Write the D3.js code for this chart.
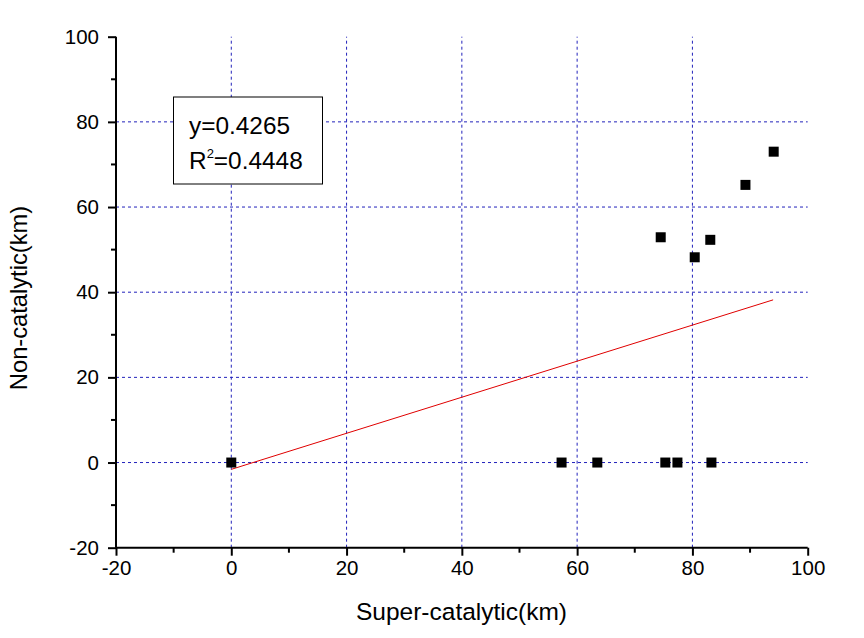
<!DOCTYPE html>
<html><head><meta charset="utf-8">
<script src="https://cdn.jsdelivr.net/npm/d3@7/dist/d3.min.js"></script>
<style>body{margin:0;background:#fff;}svg{display:block;font-family:"Liberation Sans",Arial,sans-serif;}</style>
</head><body>
<script>
const superCat = [0, 57.3, 63.5, 75.3, 77.4, 83.3, 74.5, 80.4, 83.1, 89.2, 94.1];
const nonCat   = [0, 0, 0, 0, 0, 0, 52.9, 48.2, 52.3, 65.2, 73.0];
const fitX = [0, 94.0];
const fitY = [-1.6, 38.2];
const xTicks = [-20, 0, 20, 40, 60, 80, 100];
const yTicks = [-20, 0, 20, 40, 60, 80, 100];
const gridVals = [0, 20, 40, 60, 80];
const eqLines = ["y=0.4265", "0.4448"];

const W = 864, H = 638;
const svg = d3.select("body").append("svg").attr("width", W).attr("height", H);
const x = d3.scaleLinear().domain([-20, 100]).range([116, 807.7]);
const y = d3.scaleLinear().domain([-20, 100]).range([547.7, 36.7]);

// grid
const g = svg.append("g");
g.selectAll(".vg").data(gridVals).enter().append("line")
  .attr("x1", d => x(d)).attr("x2", d => x(d)).attr("y1", y(-20)).attr("y2", y(100))
  .attr("stroke", "#2222bb").attr("stroke-width", 1).attr("stroke-dasharray", "3,3");
g.selectAll(".hg").data(gridVals).enter().append("line")
  .attr("y1", d => y(d)).attr("y2", d => y(d)).attr("x1", x(-20)).attr("x2", x(100))
  .attr("stroke", "#2222bb").attr("stroke-width", 1).attr("stroke-dasharray", "3,3");

// fit line
svg.append("line").attr("x1", x(fitX[0])).attr("y1", y(fitY[0])).attr("x2", x(fitX[1])).attr("y2", y(fitY[1]))
  .attr("stroke", "#e00000").attr("stroke-width", 1);

// points
const pts = superCat.map((v, i) => [v, nonCat[i]]);
svg.selectAll(".pt").data(pts).enter().append("rect")
  .attr("x", d => x(d[0]) - 5).attr("y", d => y(d[1]) - 5).attr("width", 10).attr("height", 10).attr("fill", "#000");

// axes
const fmt = d => String(d);
const minorX = d3.range(-10, 100, 20);
const xAxis = d3.axisBottom(x).tickValues(xTicks).tickSize(8).tickPadding(5).tickFormat(fmt);
const xa = svg.append("g").attr("transform", `translate(0,${y(-20)})`).call(xAxis);
xa.selectAll(".tick line").attr("stroke-width", 2);
xa.select(".domain").attr("stroke-width", 2).attr("d", `M${x(-20)},0H${x(100)}`);
xa.selectAll("text").attr("font-size", 20.5).attr("fill", "#000").attr("font-family", "Liberation Sans, Arial, sans-serif");
xa.selectAll(".minor").data(minorX).enter().append("line").attr("class", "minor")
  .attr("x1", d => x(d)).attr("x2", d => x(d)).attr("y1", 0).attr("y2", 5).attr("stroke", "#000").attr("stroke-width", 2);

const minorY = d3.range(-10, 100, 20);
const yAxis = d3.axisLeft(y).tickValues(yTicks).tickSize(8).tickPadding(9).tickFormat(fmt);
const ya = svg.append("g").attr("transform", `translate(${x(-20)},0)`).call(yAxis);
ya.selectAll(".tick line").attr("stroke-width", 2);
ya.select(".domain").attr("stroke-width", 2).attr("d", `M0,${y(-20)}V${y(100)}`);
ya.selectAll("text").attr("font-size", 20.5).attr("fill", "#000").attr("font-family", "Liberation Sans, Arial, sans-serif");
ya.selectAll(".minor").data(minorY).enter().append("line").attr("class", "minor")
  .attr("y1", d => y(d)).attr("y2", d => y(d)).attr("x1", 0).attr("x2", -5).attr("stroke", "#000").attr("stroke-width", 2);

// axis titles
svg.append("text").attr("x", 461.5).attr("y", 620).attr("text-anchor", "middle").attr("font-size", 24.5).text("Super-catalytic(km)");
svg.append("text").attr("transform", `translate(27,298) rotate(-90)`).attr("text-anchor", "middle").attr("font-size", 23.7).text("Non-catalytic(km)");

// equation box
svg.append("rect").attr("x", 173.5).attr("y", 97).attr("width", 149).attr("height", 87).attr("fill", "#fff").attr("stroke", "#000").attr("stroke-width", 1);
svg.append("text").attr("x", 189).attr("y", 134).attr("font-size", 24.4).text(eqLines[0]);
const t2 = svg.append("text").attr("x", 189).attr("y", 169).attr("font-size", 24.4);
t2.append("tspan").text("R");
t2.append("tspan").attr("font-size", 13).attr("dy", -11).text("2");
t2.append("tspan").attr("dy", 11).text("=" + eqLines[1]);
</script>
</body></html>
